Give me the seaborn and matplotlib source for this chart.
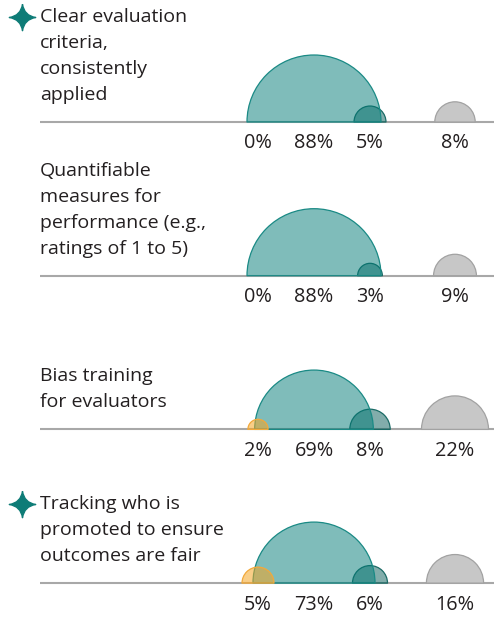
import matplotlib.pyplot as plt
import seaborn as sns
import pandas as pd
import numpy as np
from matplotlib.path import Path

# Data
items = [
    'Clear evaluation\ncriteria,\nconsistently\napplied',
    'Quantifiable\nmeasures for\nperformance (e.g.,\nratings of 1 to 5)',
    'Bias training\nfor evaluators',
    'Tracking who is\npromoted to ensure\noutcomes are fair',
]
starred = [True, False, False, True]
orange_pct = [0, 0, 2, 5]
teal_pct = [88, 88, 69, 73]
dark_pct = [5, 3, 8, 6]
grey_pct = [8, 9, 22, 16]

series = ['orange', 'teal', 'dark', 'grey']
rows = []
for i in range(len(items)):
    for s, vals in zip(series, [orange_pct, teal_pct, dark_pct, grey_pct]):
        rows.append({'row': i, 'series': s, 'value': vals[i]})
df = pd.DataFrame(rows)

# layout (pixels)
col_x = {'orange': 258, 'teal': 314, 'dark': 370, 'grey': 455}
row_base = {i: 122 + 153.7 * i for i in range(len(items))}
df['x'] = df['series'].map(col_x)
df['y'] = df['row'].map(row_base)

# styles
styles = {
    'grey': dict(color=(0.78, 0.78, 0.78, 1.0), edgecolor='#A2A2A2'),
    'teal': dict(color=(0.0, 0.478, 0.463, 0.5), edgecolor='#1A8A85'),
    'dark': dict(color=(0.106, 0.42, 0.40, 0.55), edgecolor='#1B6B66'),
    'orange': dict(color=(0.96, 0.65, 0.14, 0.55), edgecolor='#F2A93B'),
}

# semicircle marker, origin at the middle of the flat edge
arc = Path.arc(0, 180)
semi = Path(np.vstack([arc.vertices, [[1, 0]]]),
            list(arc.codes) + [Path.CLOSEPOLY])

# 4-point star marker with concave sides
c = 0.13
star = Path([(0, 1), (c, c), (1, 0), (c, -c), (0, -1), (-c, -c), (-1, 0), (-c, c), (0, 1)],
            [Path.MOVETO] + [Path.CURVE3] * 8)

R_MAX_PX = 67
vmax = df['value'].max()
s_max = (2 * R_MAX_PX * 72 / 100) ** 2

sns.set_theme(style='white')
plt.rcParams['font.family'] = ['Open Sans', 'DejaVu Sans']

fig = plt.figure(figsize=(4.94, 6.19), dpi=100)
ax = fig.add_axes([0, 0, 1, 1])

# baselines
for i in range(len(items)):
    ax.hlines(row_base[i], 40, 494, color='#A8A8A8', linewidth=1.5, zorder=1)

for k, s in enumerate(series[::-1]):
    sub = df[(df['series'] == s) & (df['value'] > 0)]
    sns.scatterplot(data=sub, x='x', y='y', size='value', sizes=(0, s_max),
                    size_norm=(0, vmax), marker=semi, linewidth=0.9,
                    legend=False, ax=ax, zorder=2 + k, **styles[s])

# percentage labels
for _, r in df.iterrows():
    ax.text(r['x'], r['y'] + 21.5, f"{r['value']}%", ha='center', va='center',
            fontsize=14.3, color='#231F20')

# item labels (bottom aligned)
for i, lab in enumerate(items):
    lines = lab.split('\n')
    n = len(lines)
    for j, line in enumerate(lines):
        y = row_base[i] - 27 - 26 * (n - 1 - j)
        ax.text(40, y, line, ha='left', va='center', fontsize=14, color='#231F20')
    if starred[i]:
        y0 = row_base[i] - 27 - 26 * (n - 1)
        ax.plot(22, y0, marker=star, markersize=19, color='#0E7C77', zorder=5)

ax.set_xlim(0, 494)
ax.set_ylim(619, 0)
ax.axis('off')

plt.savefig('out.png', dpi=100)
